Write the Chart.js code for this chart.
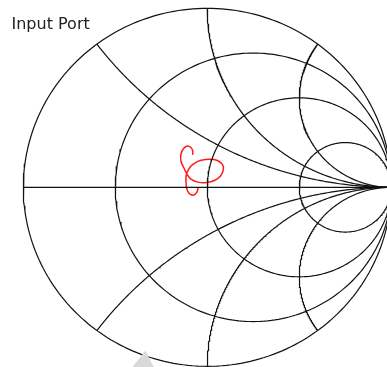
<!DOCTYPE html>
<html>
<head>
<meta charset="utf-8">
<script src="https://cdn.jsdelivr.net/npm/chart.js@4.4.0/dist/chart.umd.min.js"></script>
<style>
  body { margin: 0; background: #fff; }
  #wrap { position: relative; width: 387px; height: 367px; }
  #smith { display: block; }
  #title { position: absolute; left: 11.5px; top: 16px; font-family: "DejaVu Sans", sans-serif; font-size: 16px; line-height: 16px; color: #222; }
</style>
</head>
<body>
<div id="wrap">
  <canvas id="smith" width="387" height="367"></canvas>
  <div id="title">Input Port</div>
</div>
<script>
// Smith chart grid values
const resistances = [0, 1/3, 1, 3];
const reactances = [0.5, 1, 2, -0.5, -1, -2];

const traceRe = [-0.049, -0.058, -0.076, -0.098, -0.112, -0.116, -0.112, -0.091, -0.064, -0.034,
                 0.015, 0.055, 0.083, 0.087, 0.072, 0.039, -0.004, -0.051, -0.089, -0.108,
                 -0.127, -0.143, -0.143, -0.129, -0.108, -0.089, -0.079, -0.080];
const traceIm = [0.000, -0.030, -0.044, -0.035, -0.006, 0.038, 0.078, 0.116, 0.138, 0.151,
                 0.157, 0.150, 0.127, 0.099, 0.063, 0.038, 0.027, 0.029, 0.046, 0.069,
                 0.108, 0.147, 0.186, 0.217, 0.231, 0.222, 0.203, 0.181];

// faint grey mark near the bottom edge
const markRe = [-0.409, -0.336, -0.290];
const markIm = [-1.007, -0.912, -1.007];

const N = 240;

// constant resistance circle
function resistanceCircle(r) {
    const c = r / (1 + r), rad = 1 / (1 + r);
    const pts = [];
    for (let k = 0; k <= N; k++) {
        const a = 2 * Math.PI * k / N;
        pts.push({ x: c + rad * Math.cos(a), y: rad * Math.sin(a) });
    }
    return pts;
}

// constant reactance arc, from the rim (r = 0) to the open-circuit point
function reactanceArc(x) {
    const pts = [];
    for (let k = 0; k < N; k++) {
        const r = Math.tan(Math.PI / 2 * k / N);
        const d = (r + 1) * (r + 1) + x * x;
        pts.push({ x: (r * r - 1 + x * x) / d, y: 2 * x / d });
    }
    pts.push({ x: 1, y: 0 });
    return pts;
}

function gridSet(data) {
    return {
        data: data,
        showLine: true,
        borderColor: '#111',
        borderWidth: 1.2,
        pointRadius: 0,
        tension: 0,
        fill: false
    };
}

const datasets = [];

datasets.push({
    data: markRe.map((v, i) => ({ x: v, y: markIm[i] })),
    showLine: true,
    borderWidth: 0,
    borderColor: 'rgba(0,0,0,0)',
    backgroundColor: '#d9d9d9',
    pointRadius: 0,
    fill: 'start'
});

resistances.forEach(r => datasets.push(gridSet(resistanceCircle(r))));
reactances.forEach(x => datasets.push(gridSet(reactanceArc(x))));
datasets.push(gridSet([{ x: -1, y: 0 }, { x: 1, y: 0 }]));

datasets.push({
    data: traceRe.map((v, i) => ({ x: v, y: traceIm[i] })),
    showLine: true,
    borderColor: '#ff1a1a',
    borderWidth: 1.5,
    pointRadius: 0,
    tension: 0.4,
    fill: false
});

new Chart(document.getElementById('smith'), {
    type: 'scatter',
    data: { datasets: datasets },
    options: {
        responsive: false,
        animation: false,
        layout: { padding: 0 },
        plugins: { legend: { display: false }, tooltip: { enabled: false } },
        scales: {
            x: { type: 'linear', display: false, min: -1.1266, max: 0.9766 },
            y: { type: 'linear', display: false, min: -1.0039, max: 1.0464 }
        }
    }
});
</script>
</body>
</html>
